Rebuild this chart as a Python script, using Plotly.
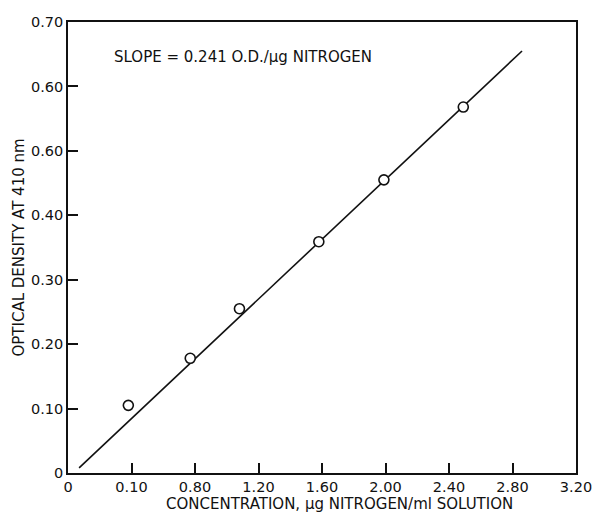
import plotly.graph_objects as go

# measured points
conc = [0.38, 0.77, 1.08, 1.58, 1.99, 2.49]
od = [0.105, 0.178, 0.255, 0.359, 0.455, 0.568]

# fitted line
line_x = [0.07, 2.86]
line_y = [0.008, 0.655]

x_tickvals = [0, 0.4, 0.8, 1.2, 1.6, 2.0, 2.4, 2.8, 3.2]
x_ticktext = ["0", "0.10", "0.80", "1.20", "1.60", "2.00", "2.40", "2.80", "3.20"]
y_tickvals = [0, 0.1, 0.2, 0.3, 0.4, 0.5, 0.6, 0.7]
y_ticktext = ["0", "0.10", "0.20", "0.30", "0.40", "0.60", "0.60", "0.70"]

FONT = "DejaVu Sans"
INK = "#111111"

fig = go.Figure()
fig.add_trace(go.Scatter(x=line_x, y=line_y, mode="lines",
                         line=dict(color=INK, width=1.6), showlegend=False))
fig.add_trace(go.Scatter(x=conc, y=od, mode="markers",
                         marker=dict(symbol="circle", size=10, color="white",
                                     line=dict(color=INK, width=1.6)),
                         showlegend=False))

axis_common = dict(ticks="inside", ticklen=10, tickwidth=1.5, tickcolor=INK,
                   showline=True, linecolor=INK, linewidth=1.6, mirror=True,
                   showgrid=False, zeroline=False, tickfont=dict(size=14.5))

fig.update_layout(
    width=604, height=514,
    margin=dict(l=68, r=19, t=22, b=41),
    paper_bgcolor="white", plot_bgcolor="white",
    font=dict(family=FONT, size=14, color=INK),
    xaxis=dict(range=[0, 3.2], tickvals=x_tickvals, ticktext=x_ticktext,
               **axis_common),
    yaxis=dict(range=[0, 0.7], tickvals=y_tickvals, ticktext=y_ticktext,
               **axis_common),
    annotations=[
        dict(text="SLOPE = 0.241 O.D./μg NITROGEN", x=0.28, y=0.645,
             xref="x", yref="y", xanchor="left", yanchor="middle",
             showarrow=False, font=dict(size=15)),
        dict(text="CONCENTRATION, μg NITROGEN/ml SOLUTION", x=0.5, y=0,
             xref="paper", yref="paper", xanchor="center", yanchor="top",
             xshift=17, yshift=-20, showarrow=False, font=dict(size=15)),
        dict(text="OPTICAL DENSITY AT 410 nm", x=0, y=0.5, textangle=-90,
             xref="paper", yref="paper", xanchor="center", yanchor="middle",
             xshift=-50, showarrow=False, font=dict(size=15)),
    ],
)

fig.write_html("out.html")
